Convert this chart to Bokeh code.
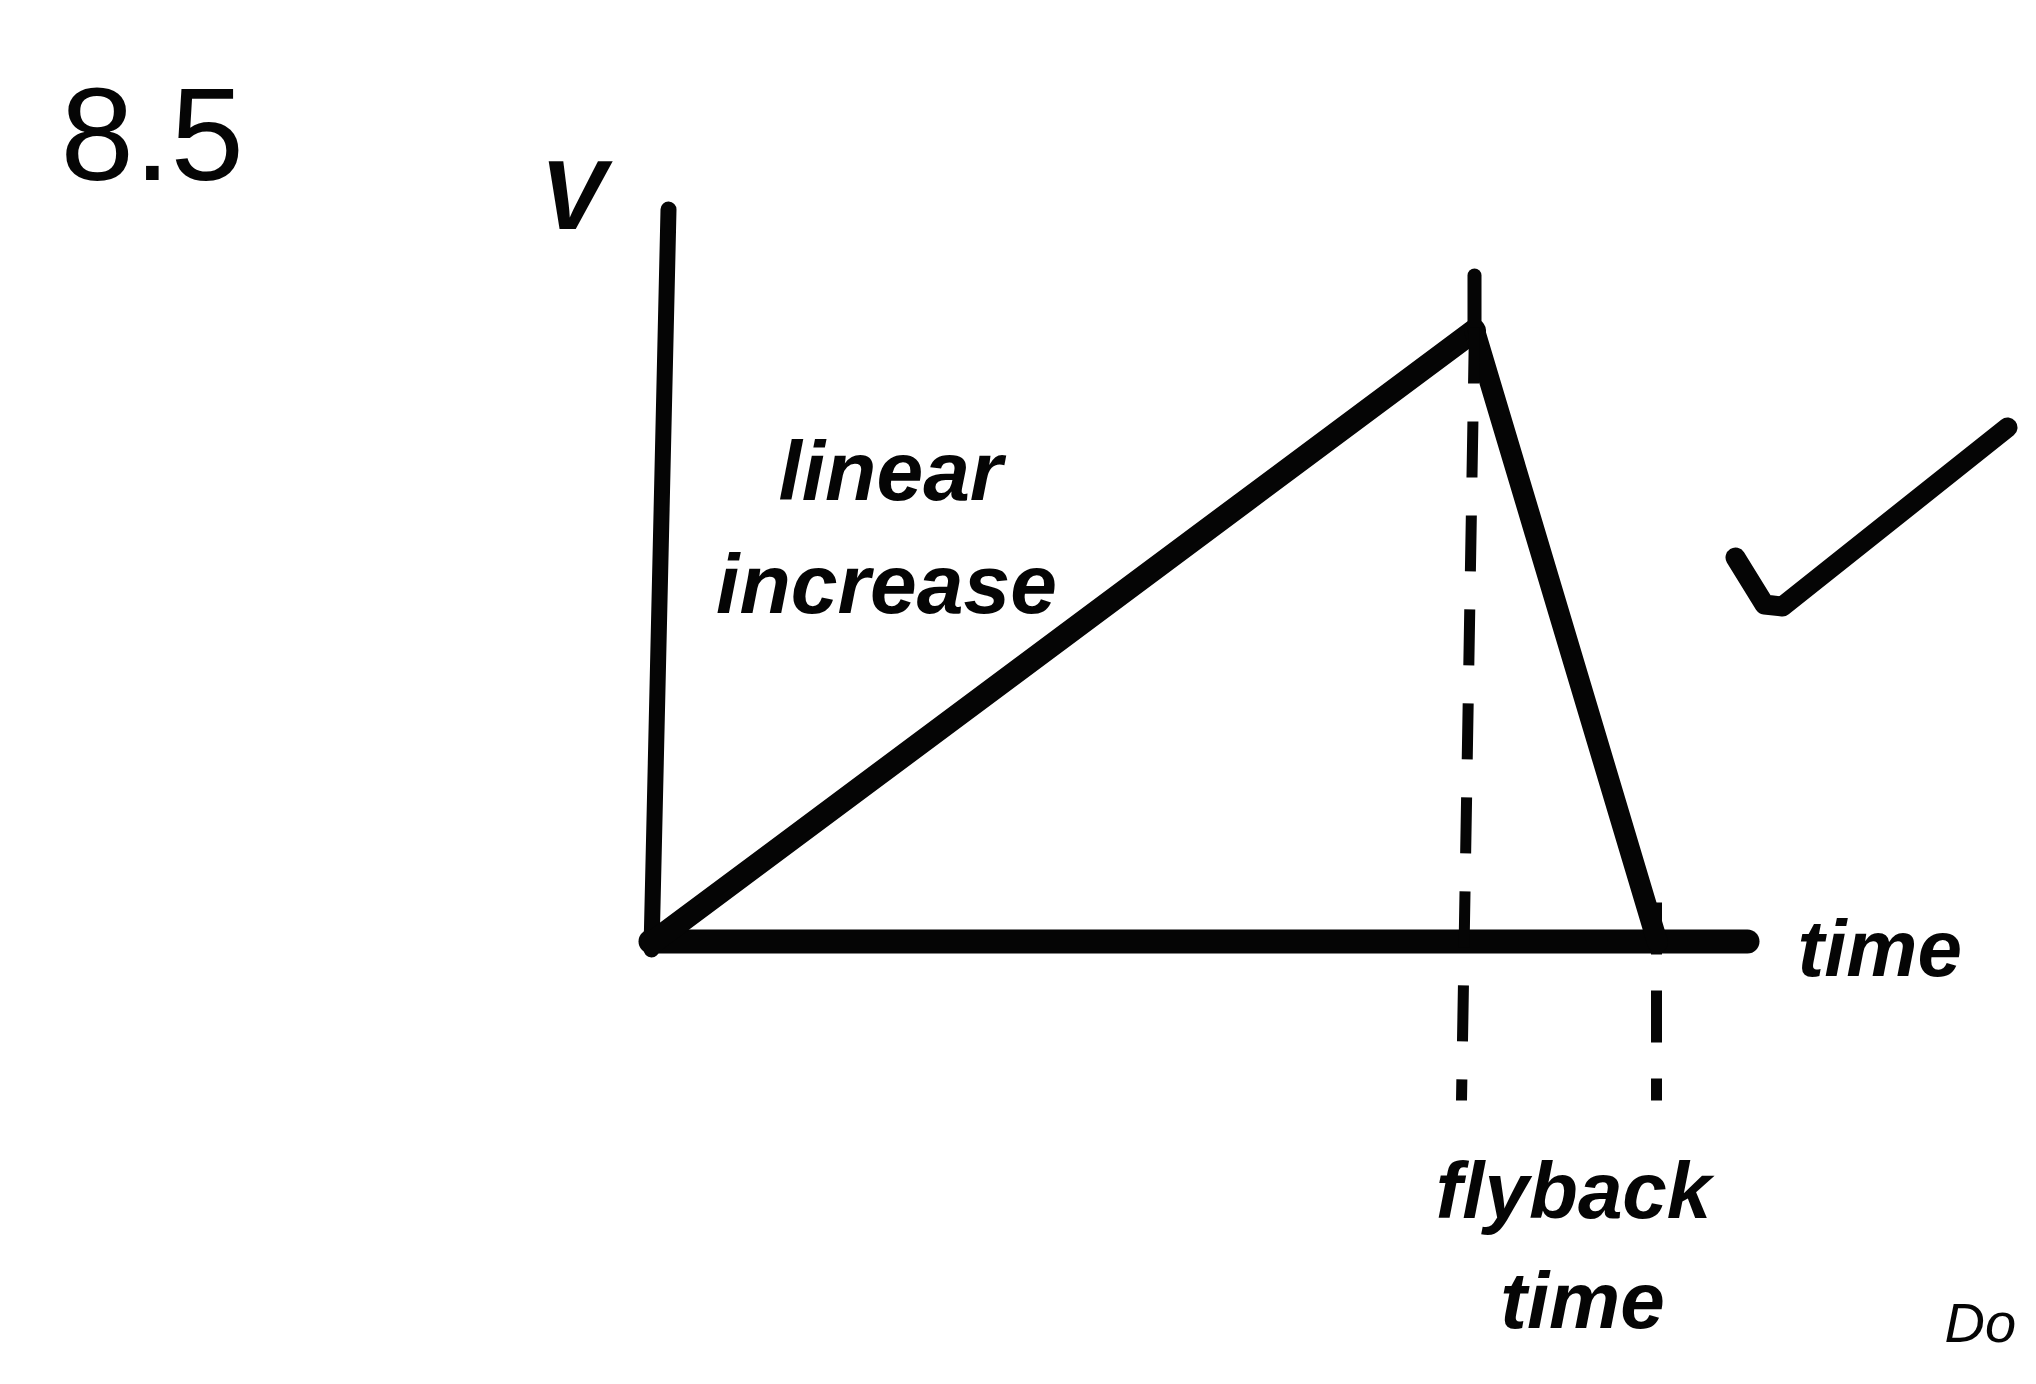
from bokeh.plotting import figure
from bokeh.models import Range1d
from bokeh.core.properties import value
from bokeh.embed import file_html
from bokeh.resources import INLINE

# ---- data (time units, voltage units) ----
# sawtooth: linear ramp then flyback
ramp_time = [0.0, 8.22]
ramp_volt = [0.0, 6.12]
flyback_time = [8.22, 10.05]
flyback_volt = [6.12, 0.0]

# hand-drawn axes
v_axis_time = [-0.01, 0.16]
v_axis_volt = [-0.07, 7.33]
t_axis_time = [-0.02, 10.95]
t_axis_volt = [0.01, 0.01]

# marker at the peak (solid tick above, dashed drop below)
peak_tick_time = [8.22, 8.22]
peak_tick_volt = [6.12, 6.67]
peak_drop_time = [8.22, 8.09]
peak_drop_volt = [6.15, -1.58]
# dashed drop at end of flyback
end_drop_time = [10.04, 10.04]
end_drop_volt = [0.40, -1.58]

# grader's check mark
check_time = [10.83, 11.12, 11.30, 13.55]
check_volt = [3.85, 3.38, 3.36, 5.15]

# texts
label_text = ["linear", "increase", "flyback", "time"]
label_time = [2.38, 2.34, 9.21, 9.30]
label_volt = [4.72, 3.59, -2.48, -3.58]
axis_time_text = ["time"]
axis_time_t = [11.45]
axis_time_v = [-0.06]
axis_volt_text = ["V"]
axis_volt_t = [-1.12]
axis_volt_v = [7.48]
number_text = ["8.5"]
number_t = [-5.92]
number_v = [8.08]
corner_text = ["Do"]
corner_t = [12.92]
corner_v = [-3.80]

W, H = 2020, 1368
p = figure(width=W, height=H, output_backend="svg", toolbar_location=None,
           x_axis_location=None, y_axis_location=None,
           x_range=Range1d(-6.52, 13.68), y_range=Range1d(-4.26, 9.42),
           min_border=0)
p.outline_line_color = None
p.grid.visible = False
p.background_fill_color = "white"
p.border_fill_color = "white"

ink = "#050505"
FONT = value("Liberation Sans")

# axes
p.line(v_axis_time, v_axis_volt, line_width=16, line_color=ink, line_cap="round")
p.line(t_axis_time, t_axis_volt, line_width=24, line_color=ink, line_cap="round")

# waveform
p.line(ramp_time, ramp_volt, line_width=23, line_color=ink, line_cap="round")
p.line(flyback_time, flyback_volt, line_width=21, line_color=ink, line_cap="round")

# peak markers
p.line(peak_tick_time, peak_tick_volt, line_width=14, line_color=ink, line_cap="round")
p.line(peak_drop_time, peak_drop_volt, line_width=11, line_color=ink, line_dash="56 38")
p.line(end_drop_time, end_drop_volt, line_width=11, line_color=ink, line_dash="52 36")

# check mark
p.line(check_time, check_volt, line_width=20, line_color=ink, line_cap="round", line_join="round")

# texts
p.text(x=number_t, y=number_v, text=number_text, text_font=FONT,
       text_font_size="132px", text_align="left",
       text_baseline="alphabetic", text_color=ink)
p.text(x=label_time[:2], y=label_volt[:2], text=label_text[:2], text_font=FONT,
       text_font_style="bold italic", text_font_size="84px", text_align="center",
       text_baseline="alphabetic", text_color=ink)
p.text(x=label_time[2:], y=label_volt[2:], text=label_text[2:], text_font=FONT,
       text_font_style="bold italic", text_font_size="80px", text_align="center",
       text_baseline="alphabetic", text_color=ink)
p.text(x=axis_time_t, y=axis_time_v, text=axis_time_text, text_font=FONT,
       text_font_style="bold italic", text_font_size="80px", text_align="left",
       text_baseline="alphabetic", text_color=ink)
p.text(x=axis_volt_t, y=axis_volt_v, text=axis_volt_text, text_font=FONT,
       text_font_style="bold italic", text_font_size="98px", text_align="left",
       text_baseline="alphabetic", text_color=ink)
p.text(x=corner_t, y=corner_v, text=corner_text, text_font=FONT,
       text_font_style="italic", text_font_size="56px", text_align="left",
       text_baseline="alphabetic", text_color=ink)

open("out.html", "w").write(file_html(p, INLINE))
